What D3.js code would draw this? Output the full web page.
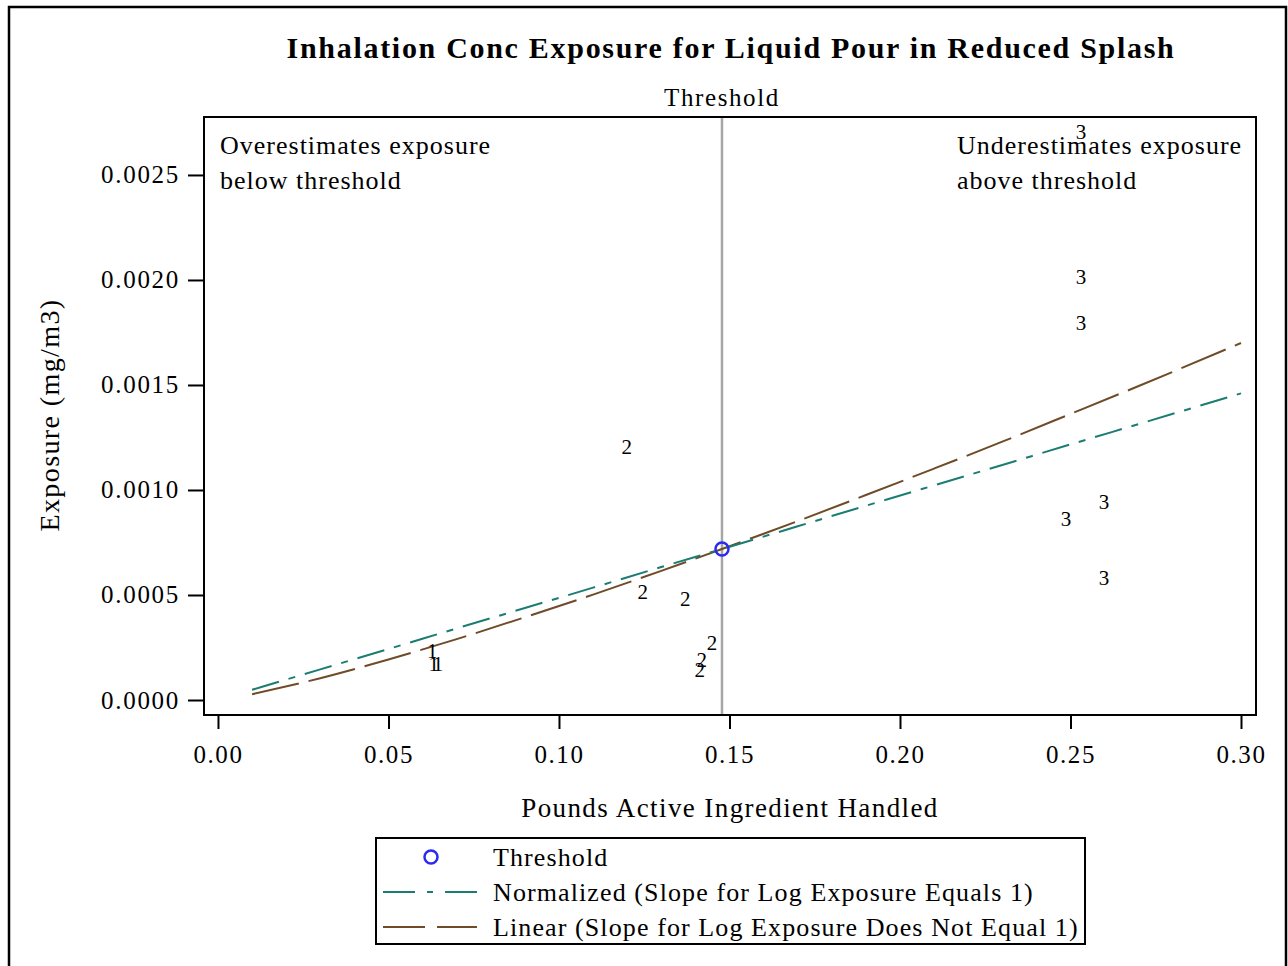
<!DOCTYPE html>
<html>
<head>
<meta charset="utf-8">
<script src="https://cdn.jsdelivr.net/npm/d3@7"></script>
<style>
  body { margin: 0; background: #fff; }
  text { font-family: "Liberation Serif", "Times New Roman", serif; fill: #000; }
</style>
</head>
<body>
<svg id="chart" width="1288" height="966"></svg>
<script>
// points labelled by group
const groupLabels = ["1", "1", "1", "2", "2", "2", "2", "2", "2", "3", "3", "3", "3", "3", "3"]
const pointX = [0.0628, 0.0633, 0.0645, 0.1199, 0.1246, 0.1370, 0.1449, 0.1419, 0.1413,
                0.2531, 0.2531, 0.2531, 0.2487, 0.2598, 0.2598]
const pointY = [0.000233, 0.000171, 0.000171, 0.001205, 0.000514, 0.000481, 0.000271, 0.000190, 0.000143,
                0.002705, 0.002014, 0.001795, 0.000862, 0.000943, 0.000581]

// threshold point
const thresholdX = 0.1478
const thresholdY = 0.000719

// fitted curves
const curveX = [0.01, 0.03, 0.05, 0.07, 0.09, 0.11, 0.13, 0.1478, 0.17, 0.19, 0.21, 0.23, 0.25, 0.27, 0.30]
const normalizedY = [0.0000487, 0.000146, 0.000243, 0.000341, 0.000438, 0.000535, 0.000633, 0.000719,
                     0.000827, 0.000925, 0.001022, 0.001119, 0.001217, 0.001314, 0.00146]
const linearY = [0.0000273, 0.000104, 0.000193, 0.00029, 0.000394, 0.000502, 0.000615, 0.000719,
                 0.000852, 0.000976, 0.001102, 0.00123, 0.001362, 0.001495, 0.0017]

const xTicks = [0, 0.05, 0.10, 0.15, 0.20, 0.25, 0.30]
const yTicks = [0, 0.0005, 0.0010, 0.0015, 0.0020, 0.0025]

const legendItems = ["Threshold",
                     "Normalized (Slope for Log Exposure Equals 1)",
                     "Linear (Slope for Log Exposure Does Not Equal 1)"]

const TEAL = "#1b7d72"
const BROWN = "#6f4b27"

const plot = { left: 204, right: 1256, top: 117, bottom: 715 }

const svg = d3.select("#chart")

// outer frame
svg.append("rect")
  .attr("x", 9).attr("y", 7)
  .attr("width", 1277).attr("height", 990)
  .attr("fill", "none").attr("stroke", "#000").attr("stroke-width", 2.5)

const xScale = d3.scaleLinear()
  .domain([-0.0041, 0.3044])
  .range([plot.left, plot.right])

const yScale = d3.scaleLinear()
  .domain([-0.0000714, 0.002776])
  .range([plot.bottom, plot.top])

// title
svg.append("text")
  .attr("x", 731).attr("y", 58)
  .attr("text-anchor", "middle")
  .style("font-size", "30px").style("font-weight", "bold")
  .style("letter-spacing", "1.7px")
  .text("Inhalation Conc Exposure for Liquid Pour in Reduced Splash")

// axes
const xAxis = svg.append("g")
  .attr("transform", "translate(0," + plot.bottom + ")")
  .call(d3.axisBottom(xScale).tickValues(xTicks).tickFormat(d3.format(".2f")).tickSize(14).tickPadding(16))
xAxis.select(".domain").remove()
xAxis.selectAll("line").attr("stroke-width", 2)
xAxis.selectAll("text").style("font-size", "25px").style("font-family", "Liberation Serif")
  .style("letter-spacing", "1.6px")

const yAxis = svg.append("g")
  .attr("transform", "translate(" + plot.left + ",0)")
  .call(d3.axisLeft(yScale).tickValues(yTicks).tickFormat(d3.format(".4f")).tickSize(16).tickPadding(8))
yAxis.select(".domain").remove()
yAxis.selectAll("line").attr("stroke-width", 2)
yAxis.selectAll("text").style("font-size", "25px").style("font-family", "Liberation Serif")
  .style("letter-spacing", "1.7px")

// axis labels
svg.append("text")
  .attr("x", 730).attr("y", 817)
  .attr("text-anchor", "middle")
  .style("font-size", "27px").style("letter-spacing", "1.4px")
  .text("Pounds Active Ingredient Handled")

svg.append("text")
  .attr("transform", "translate(59,415) rotate(-90)")
  .attr("text-anchor", "middle")
  .style("font-size", "28px").style("letter-spacing", "1.4px")
  .text("Exposure (mg/m3)")

// threshold reference line
svg.append("line")
  .attr("x1", xScale(thresholdX)).attr("x2", xScale(thresholdX))
  .attr("y1", plot.top).attr("y2", plot.bottom)
  .attr("stroke", "#a6a6a6").attr("stroke-width", 2.5)

svg.append("text")
  .attr("x", xScale(thresholdX)).attr("y", 106)
  .attr("text-anchor", "middle")
  .style("font-size", "25px").style("letter-spacing", "1.6px")
  .text("Threshold")

// inset notes
const noteL = svg.append("text").style("font-size", "26px").style("letter-spacing", "1px")
noteL.append("tspan").attr("x", 220).attr("y", 154).text("Overestimates exposure")
noteL.append("tspan").attr("x", 220).attr("y", 189).text("below threshold")
const noteR = svg.append("text").style("font-size", "26px").style("letter-spacing", "1px")
noteR.append("tspan").attr("x", 957).attr("y", 154).text("Underestimates exposure")
noteR.append("tspan").attr("x", 957).attr("y", 189).text("above threshold")

// curves
const line = d3.line()
  .x(d => xScale(d[0]))
  .y(d => yScale(d[1]))
  .curve(d3.curveMonotoneX)

svg.append("path")
  .datum(curveX.map((x, i) => [x, linearY[i]]))
  .attr("d", line)
  .attr("fill", "none").attr("stroke", BROWN).attr("stroke-width", 2)
  .attr("stroke-dasharray", "48,10")

svg.append("path")
  .datum(curveX.map((x, i) => [x, normalizedY[i]]))
  .attr("d", line)
  .attr("fill", "none").attr("stroke", TEAL).attr("stroke-width", 2)
  .attr("stroke-dasharray", "28,10,7,10")

// group labelled points
svg.append("g")
  .selectAll("text")
  .data(groupLabels)
  .enter()
  .append("text")
  .attr("x", (d, i) => xScale(pointX[i]))
  .attr("y", (d, i) => yScale(pointY[i]))
  .attr("text-anchor", "middle")
  .attr("dy", "0.35em")
  .style("font-size", "21px")
  .text(d => d)

// threshold marker
svg.append("circle")
  .attr("cx", xScale(thresholdX)).attr("cy", yScale(thresholdY))
  .attr("r", 6.5)
  .attr("fill", "none").attr("stroke", "#2b2bf0").attr("stroke-width", 2.5)

// plot frame
svg.append("rect")
  .attr("x", plot.left).attr("y", plot.top)
  .attr("width", plot.right - plot.left).attr("height", plot.bottom - plot.top)
  .attr("fill", "none").attr("stroke", "#000").attr("stroke-width", 2)

// legend
const legend = svg.append("g")
legend.append("rect")
  .attr("x", 376).attr("y", 838).attr("width", 709).attr("height", 106)
  .attr("fill", "none").attr("stroke", "#000").attr("stroke-width", 2)

const rowY = [857, 892, 927]
legend.selectAll("text.item")
  .data(legendItems)
  .enter()
  .append("text")
  .attr("class", "item")
  .attr("x", 493)
  .attr("y", (d, i) => rowY[i])
  .attr("dy", "0.35em")
  .style("font-size", "26px").style("letter-spacing", "1.1px")
  .text(d => d)

legend.append("circle")
  .attr("cx", 431).attr("cy", rowY[0]).attr("r", 6.5)
  .attr("fill", "none").attr("stroke", "#2b2bf0").attr("stroke-width", 2.5)

legend.append("line")
  .attr("x1", 383).attr("x2", 477).attr("y1", rowY[1]).attr("y2", rowY[1])
  .attr("stroke", TEAL).attr("stroke-width", 2)
  .attr("stroke-dasharray", "32,12,6,12,32")

legend.append("line")
  .attr("x1", 383).attr("x2", 477).attr("y1", rowY[2]).attr("y2", rowY[2])
  .attr("stroke", BROWN).attr("stroke-width", 2)
  .attr("stroke-dasharray", "42,12,40")
</script>
</body>
</html>
